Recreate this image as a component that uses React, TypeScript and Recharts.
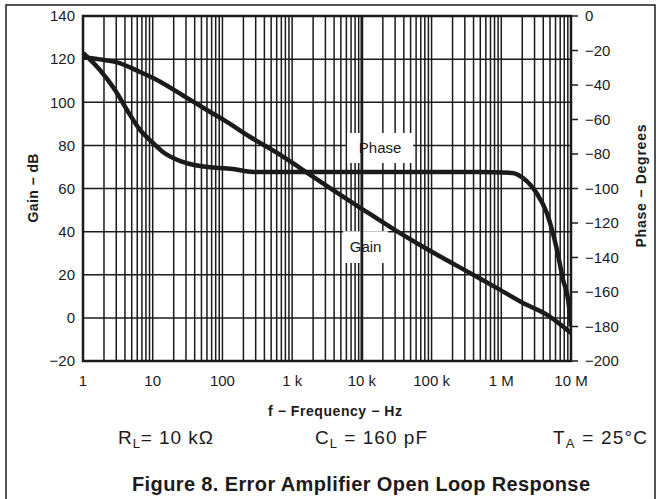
import React from 'react';
import {
  LineChart,
  Line,
  XAxis,
  YAxis,
  CartesianGrid,
  ReferenceArea,
  ReferenceLine,
} from 'recharts';

// frequency axis (Hz)
const decadeTicks = [1, 10, 100, 1e3, 1e4, 1e5, 1e6, 1e7];
const decadeLabels = ['1', '10', '100', '1 k', '10 k', '100 k', '1 M', '10 M'];
const gridMultipliers = [1, 2, 3, 4, 5, 6, 7, 8, 9];

const gainTicks = [-20, 0, 20, 40, 60, 80, 100, 120, 140];
const phaseTicks = [-200, -180, -160, -140, -120, -100, -80, -60, -40, -20, 0];

// gain curve, dB
const gainFreq = [1, 2, 3, 6.6, 11.5, 31, 60, 117, 250, 610, 1300, 3500, 1e4, 3e4, 8.1e4, 4e5, 8.7e5, 2.05e6, 4.6e6, 1e7];
const gainDb = [121, 119.6, 118.6, 114, 110.3, 102, 96.4, 90.8, 83.9, 76.5, 69.5, 60.2, 50.6, 40.7, 32.4, 19.9, 13.8, 6.9, 1.3, -7];

// phase curve, degrees
const phaseFreq = [1, 1.75, 2.88, 4.28, 6.6, 9.1, 14, 25, 48, 142, 275, 4.6e5, 1.43e6, 2.05e6, 3.2e6, 4.5e6, 5.5e6, 6.3e6, 7.7e6, 9.1e6, 1e7];
const phaseDeg = [-21.4, -31.3, -42.9, -54.5, -66.1, -71.9, -78.8, -84.1, -87, -88.7, -90.4, -90.4, -91, -93.9, -102.6, -114.2, -125.8, -135.7, -153, -164.6, -180];

const gainData = gainFreq.map((f, i) => ({ f, v: gainDb[i] }));
const phaseData = phaseFreq.map((f, i) => ({ f, v: phaseDeg[i] }));

const gridTicks: number[] = [];
decadeTicks.slice(0, -1).forEach((d) => gridMultipliers.forEach((m) => gridTicks.push(d * m)));
gridTicks.push(decadeTicks[decadeTicks.length - 1]);

const fmtFreq = (v: number) => {
  const i = decadeTicks.findIndex((d) => Math.abs(d - v) < d * 1e-6);
  return i >= 0 ? decadeLabels[i] : '';
};
const fmtNum = (v: number) => String(v).replace('-', '\u2212');

const ink = '#1c1a1a';
const font = '"Liberation Sans", Arial, sans-serif';

const App: React.FC = () => {
  return (
    <div style={{ position: 'absolute', left: 0, top: 0, width: 661, height: 499, background: '#fff', fontFamily: font }}>
      <LineChart
        width={661}
        height={420}
        margin={{ top: 16, right: 0, bottom: 0, left: 0 }}
        style={{ position: 'absolute', left: 0, top: 0 }}
      >
        <CartesianGrid yAxisId="gain" stroke={ink} strokeWidth={1.5} strokeOpacity={1} />
        <XAxis
          dataKey="f"
          type="number"
          scale="log"
          domain={[1, 1e7]}
          allowDataOverflow
          ticks={gridTicks}
          interval={0}
          tickFormatter={fmtFreq}
          tickLine={false}
          axisLine={false}
          tickMargin={8}
          height={59}
          tick={{ fill: ink, fontSize: 15, fontFamily: font }}
        />
        <YAxis
          yAxisId="gain"
          orientation="left"
          domain={[-20, 140]}
          ticks={gainTicks}
          interval={0}
          width={83}
          tickLine={false}
          axisLine={false}
          tickFormatter={fmtNum}
          tick={{ fill: ink, fontSize: 15, fontFamily: font }}
        />
        <YAxis
          yAxisId="phase"
          orientation="right"
          domain={[-200, 0]}
          ticks={phaseTicks}
          interval={0}
          width={90}
          tickSize={7}
          tickMargin={7}
          tickLine={{ stroke: ink, strokeWidth: 1.5 }}
          axisLine={false}
          tickFormatter={fmtNum}
          tick={{ fill: ink, fontSize: 15, fontFamily: font }}
        />
        <ReferenceLine yAxisId="gain" x={1e4} stroke={ink} strokeWidth={2.8} />
        <ReferenceArea
          yAxisId="gain"
          x1={6135}
          x2={54300}
          y1={71.8}
          y2={85.7}
          fill="#fff"
          fillOpacity={1}
          stroke="none"
          label={{ value: 'Phase', position: 'center', fill: ink, fontSize: 15, fontFamily: font }}
        />
        <ReferenceArea
          yAxisId="gain"
          x1={5375}
          x2={23770}
          y1={25.4}
          y2={40.2}
          fill="#fff"
          fillOpacity={1}
          stroke="none"
          label={{ value: 'Gain', position: 'center', fill: ink, fontSize: 15, fontFamily: font }}
        />
        <ReferenceArea
          yAxisId="gain"
          x1={1}
          x2={1e7}
          y1={-20}
          y2={140}
          fill="none"
          stroke={ink}
          strokeWidth={2.5}
        />
        <Line
          yAxisId="gain"
          data={gainData}
          dataKey="v"
          type="monotone"
          stroke={ink}
          strokeWidth={4.5}
          dot={false}
          isAnimationActive={false}
        />
        <Line
          yAxisId="phase"
          data={phaseData}
          dataKey="v"
          type="monotone"
          stroke={ink}
          strokeWidth={4.5}
          dot={false}
          isAnimationActive={false}
        />
      </LineChart>
      <svg width={661} height={499} style={{ position: 'absolute', left: 0, top: 0, pointerEvents: 'none' }}>
        <rect x={6} y={5} width={649} height={600} fill="none" stroke={ink} strokeWidth={1.5} />
        <text
          transform="translate(38,188) rotate(-90)"
          textAnchor="middle"
          fontSize={14}
          fontWeight="bold"
          fill={ink}
          fontFamily={font}
          textLength={69}
          lengthAdjust="spacing"
        >
          Gain − dB
        </text>
        <text
          transform="translate(646,186) rotate(-90)"
          textAnchor="middle"
          fontSize={14}
          fontWeight="bold"
          fill={ink}
          fontFamily={font}
          textLength={123}
          lengthAdjust="spacing"
        >
          Phase − Degrees
        </text>
        <text x={268} y={416} fontSize={14} fontWeight="bold" fill={ink} fontFamily={font} textLength={134} lengthAdjust="spacing">
          f − Frequency − Hz
        </text>
        <text x={118} y={444} fontSize={19} fill={ink} fontFamily={font} textLength={95} lengthAdjust="spacing">
          R<tspan fontSize={13} dy={4}>L</tspan>
          <tspan dy={-4}>= 10 kΩ</tspan>
        </text>
        <text x={315} y={444} fontSize={19} fill={ink} fontFamily={font} textLength={112} lengthAdjust="spacing">
          C<tspan fontSize={13} dy={4}>L</tspan>
          <tspan dy={-4}> = 160 pF</tspan>
        </text>
        <text x={553} y={444} fontSize={19} fill={ink} fontFamily={font} textLength={94} lengthAdjust="spacing">
          T<tspan fontSize={13} dy={4}>A</tspan>
          <tspan dy={-4}> = 25°C</tspan>
        </text>
        <text x={132} y={491} fontSize={20} fontWeight="bold" fill={ink} fontFamily={font} textLength={458} lengthAdjust="spacing">
          Figure 8. Error Amplifier Open Loop Response
        </text>
      </svg>
    </div>
  );
};

export default App;
